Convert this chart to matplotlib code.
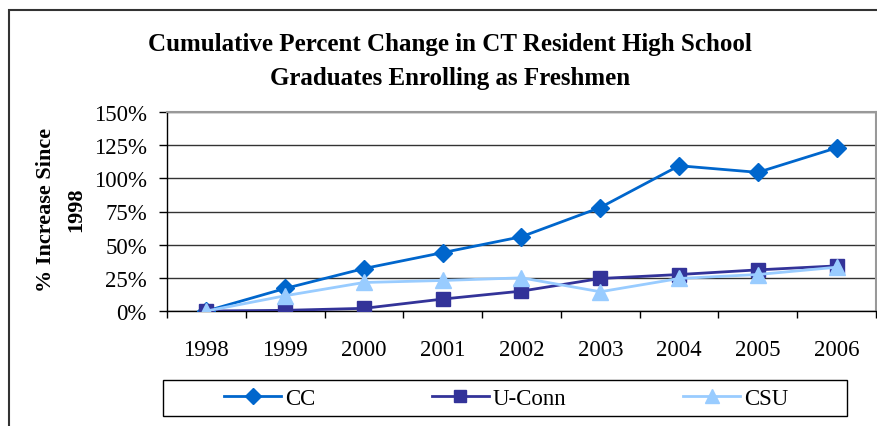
import matplotlib
matplotlib.use('Agg')
import matplotlib.pyplot as plt
from matplotlib.patches import Rectangle
from matplotlib.ticker import FixedLocator, FuncFormatter

plt.rcParams['font.family'] = ['Liberation Serif', 'DejaVu Serif']

years = ['1998', '1999', '2000', '2001', '2002', '2003', '2004', '2005', '2006']
cc = [0, 17, 32, 44, 56, 78, 109.5, 104.5, 123]
uconn = [0, 0.5, 2, 9, 15, 24.5, 27.5, 31, 34]
csu = [0, 11.5, 21.5, 23, 25, 14.5, 24.5, 27.5, 33]

W, H = 878, 427
fig = plt.figure(figsize=(W / 100, H / 100), dpi=100)
# plot area in pixel coords
l, r, t, b = 167, 876, 113, 312
ax = fig.add_axes([l / W, 1 - b / H, (r - l) / W, (b - t) / H])

x = list(range(len(years)))
ax.plot(x, cc, color='#0066CC', lw=2, marker='D', ms=9.5, label='CC', zorder=3)
ax.plot(x, uconn, color='#333399', lw=2, marker='s', ms=9.5, label='U-Conn', zorder=3)
ax.plot(x, csu, color='#99CCFF', lw=2, marker='^', ms=11, label='CSU', zorder=3)

ax.set_xlim(-0.5, len(years) - 0.5)
ax.set_ylim(0, 150)
ax.set_yticks(range(0, 151, 25))
ax.yaxis.set_major_formatter(FuncFormatter(lambda v, p: '%d%%' % v))
ax.grid(axis='y', color='#333333', lw=1)
ax.set_xticks(x)
ax.set_xticklabels(years)
ax.xaxis.set_minor_locator(FixedLocator([i + 0.5 for i in range(-1, len(years))]))
ax.tick_params(axis='x', which='major', length=0, pad=20, labelsize=16.5)
ax.tick_params(axis='x', which='minor', length=5, width=1, direction='out')
ax.tick_params(axis='y', length=6, width=1, direction='out', labelsize=16.5, pad=8.5)

for s in ['top', 'right']:
    ax.spines[s].set_color('#999999')
    ax.spines[s].set_linewidth(1.5)
for s in ['left', 'bottom']:
    ax.spines[s].set_color('black')
    ax.spines[s].set_linewidth(1)

fig.text(450 / W, 1 - 44 / H, 'Cumulative Percent Change in CT Resident High School',
         ha='center', va='center', fontsize=18, fontweight='bold')
fig.text(450 / W, 1 - 79 / H, 'Graduates Enrolling as Freshmen',
         ha='center', va='center', fontsize=18, fontweight='bold')
fig.text(46 / W, 1 - 210 / H, '% Increase Since', rotation=90,
         ha='center', va='center', fontsize=16, fontweight='bold')
fig.text(76 / W, 1 - 210 / H, '1998', rotation=90,
         ha='center', va='center', fontsize=16, fontweight='bold')

leg = fig.legend(loc='center left', bbox_to_anchor=(224 / W, 1 - 399 / H), ncol=3,
                 fontsize=16.5, frameon=False, columnspacing=5.1,
                 handlelength=2.5, handletextpad=0.15,
                 borderpad=0, borderaxespad=0, markerscale=0.9)
fig.patches.append(Rectangle((163 / W, 1 - 417 / H), (847 - 163) / W, 36 / H,
                             transform=fig.transFigure, fill=False,
                             edgecolor='black', lw=1))

fig.patches.append(Rectangle((9 / W, -0.1), 1.2, 1 - 11 / H + 0.1,
                             transform=fig.transFigure, fill=False,
                             edgecolor='#333333', lw=1.5))

fig.savefig('out.png', dpi=100)
